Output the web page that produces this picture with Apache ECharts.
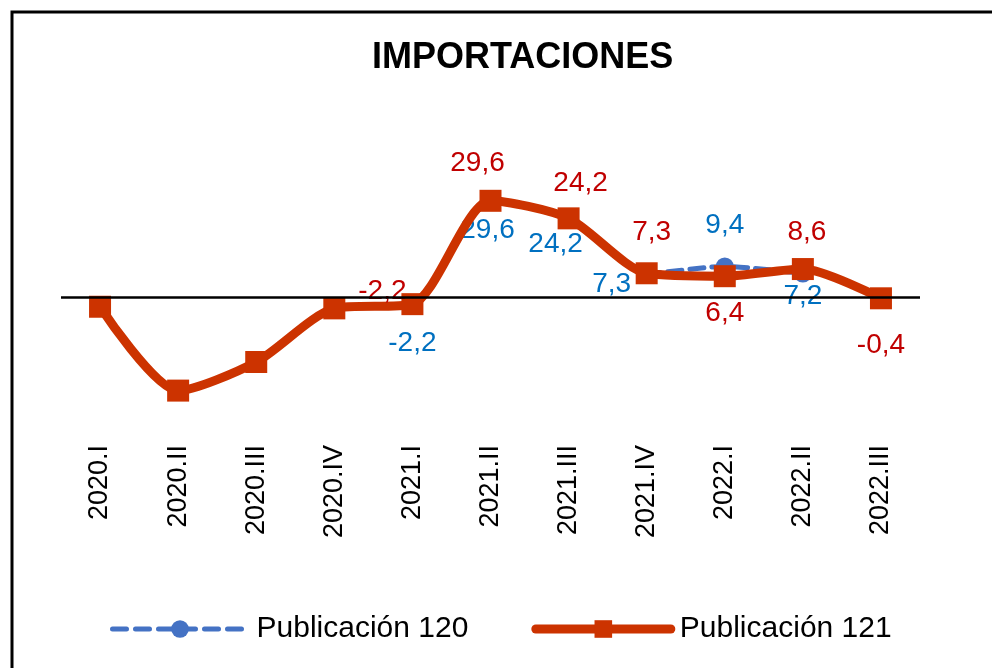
<!DOCTYPE html>
<html><head><meta charset="utf-8">
<script src="https://cdn.jsdelivr.net/npm/echarts@6/dist/echarts.min.js"></script>
<style>html,body{margin:0;padding:0;background:#fff}#c{width:992px;height:668px}</style>
</head><body><div id="c"></div>
<script>
const categories = ['2020.I','2020.II','2020.III','2020.IV','2021.I','2021.II','2021.III','2021.IV','2022.I','2022.II','2022.III'];
const pub120 = [-3.0,-28.8,-20.0,-3.5,-2.2,29.6,24.2,7.3,9.4,7.2,null];
const pub121 = [-3.0,-28.8,-20.0,-3.5,-2.2,29.6,24.2,7.3,6.4,8.6,-0.4];
const seriesNames = ['Publicación 120','Publicación 121'];

// label offsets relative to the point (style only)
const off120 = {4:[0,39],5:[-3,29],6:[-13,26],7:[-35,11],8:[0,-41],9:[0,23]};
const off121 = {4:[-30,-13],5:[-13,-38],6:[12,-35],7:[5,-41],8:[0,37],9:[4,-37],10:[0,47]};

const FONT = "'Liberation Sans', Arial, sans-serif";
function fmt(v){ return String(v.toFixed(1)).replace('.', ','); }
function build(vals, offs, color){
  return vals.map((v,i)=>{
    if (v === null) return null;
    const o = offs[i];
    return {
      value: v,
      label: o ? {show:true, position:'inside', offset:o, color:color, fontSize:28, fontFamily:FONT,
                  textBorderWidth:0, formatter:(p)=>fmt(p.value)} : {show:false}
    };
  });
}

const chart = echarts.init(document.getElementById('c'), null, {renderer:'canvas'});
chart.setOption({
  animation:false,
  backgroundColor:'#fff',
  title:{text:'IMPORTACIONES', left:372, top:40, padding:0,
    textStyle:{fontSize:36, fontWeight:'bold', color:'#000', fontFamily:FONT}},
  graphic:[{type:'polyline', shape:{points:[[12,668],[12,12],[992,12]]},
    style:{stroke:'#000', lineWidth:3, fill:null}}],
  legend:{left:110, top:614, padding:0, itemGap:63, itemWidth:135, itemHeight:22,
    textStyle:{fontSize:30, color:'#000', fontFamily:FONT, padding:[0,0,0,4]},
    data:[
      {name:seriesNames[0], lineStyle:{width:5, type:[14,9], cap:'round', color:'#4472C4'}},
      {name:seriesNames[1], lineStyle:{width:9, type:'solid', cap:'round', color:'#CC3300'}}
    ]},
  grid:{left:61, right:72, top:167, bottom:241, outerBoundsMode:'none'},
  xAxis:{type:'category', data:categories, boundaryGap:true,
    axisLine:{show:false, onZero:false}, axisTick:{show:false},
    axisLabel:{rotate:90, fontSize:27, color:'#000', margin:18, fontFamily:FONT, interval:0}},
  yAxis:{type:'value', min:-40, max:40, show:false, splitLine:{show:false}},
  series:[
    {name:seriesNames[0], type:'line', smooth:0.25, z:2,
     data:build(pub120, off120, '#0070C0'),
     symbol:'circle', symbolSize:18,
     itemStyle:{color:'#4472C4'},
     lineStyle:{color:'#4472C4', width:5, type:[14,8], cap:'round'}},
    {name:seriesNames[1], type:'line', smooth:0.25, z:3,
     data:build(pub121, off121, '#C00000'),
     symbol:'rect', symbolSize:22,
     itemStyle:{color:'#CC3300'},
     lineStyle:{color:'#CC3300', width:9, cap:'round'},
     markLine:{silent:true, symbol:'none', label:{show:false},
       lineStyle:{color:'#000', width:2.5, type:'solid'},
       data:[{yAxis:0}]}}
  ]
});
</script></body></html>
